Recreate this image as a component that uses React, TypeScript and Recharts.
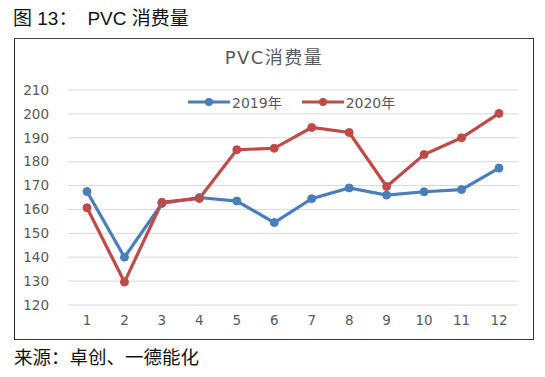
import { CartesianGrid, Legend, Line, LineChart, XAxis, YAxis } from "recharts";

const months = ["1", "2", "3", "4", "5", "6", "7", "8", "9", "10", "11", "12"];
const y2019 = [167.5, 140, 162.5, 165, 163.5, 154.5, 164.5, 169, 166, 167.4, 168.3, 177.3];
const y2020 = [160.7, 129.6, 163, 164.6, 185, 185.6, 194.3, 192.2, 169.6, 183, 190, 200.2];
const yTicks = [120, 130, 140, 150, 160, 170, 180, 190, 200, 210];

const BLUE = "#4A7EBB";
const RED = "#BE4B48";
const GREY = "#595959";
const CJK = "'Noto Sans CJK SC', 'Noto Sans', sans-serif";
const HEAD = "'Liberation Sans', 'Noto Sans CJK SC', sans-serif";
const NUM = "'DejaVu Sans', 'Noto Sans CJK SC', sans-serif";

const data = months.map((m, i) => ({ month: m, a: y2019[i], b: y2020[i] }));

function LegendContent({ payload }: any) {
  return (
    <div style={{ display: "flex", gap: 20, fontFamily: NUM, fontSize: 14, color: GREY }}>
      {(payload || []).map((p: any) => (
        <div key={p.value} style={{ display: "flex", alignItems: "center" }}>
          <svg width={42} height={10}>
            <line x1={0} y1={5} x2={42} y2={5} stroke={p.color} strokeWidth={3} />
            <circle cx={21} cy={5} r={4} fill={p.color} />
          </svg>
          <span style={{ marginLeft: 2 }}>{p.value}</span>
        </div>
      ))}
    </div>
  );
}

export default function App() {
  return (
    <div style={{ position: "absolute", left: 0, top: 0, width: 545, height: 377, background: "#fff" }}>
      <div style={{ position: "absolute", left: 13, top: 7, fontFamily: HEAD, fontSize: 19, lineHeight: "24px", color: "#111", whiteSpace: "pre" }}>
        <span>图 13：</span>
        <span style={{ marginLeft: 10 }}>PVC 消费量</span>
      </div>
      <div
        style={{
          position: "absolute",
          left: 14,
          top: 38,
          width: 518,
          height: 300,
          borderLeft: "1.5px solid #222",
          borderRight: "1.5px solid #333",
          borderBottom: "1.5px solid #333",
          borderTop: "1.5px solid #444",
        }}
      >
        <div
          style={{
            position: "absolute",
            left: 0,
            width: 518,
            top: 4,
            textAlign: "center",
            fontFamily: NUM,
            fontSize: 18,
            letterSpacing: 1.5,
            color: GREY,
            zIndex: 2,
          }}
        >
          PVC消费量
        </div>
        <LineChart width={518} height={300} data={data} margin={{ top: 51, right: 15, left: 0, bottom: 0 }}>
          <CartesianGrid vertical={false} stroke="#d9d9d9" strokeWidth={1} />
          <XAxis
            dataKey="month"
            axisLine={false}
            tickLine={false}
            height={34}
            tickMargin={4}
            padding={{ left: 19, right: 19 }}
            tick={{ fontSize: 13.5, fill: GREY, fontFamily: NUM }}
          />
          <YAxis
            domain={[120, 210]}
            ticks={yTicks}
            axisLine={false}
            tickLine={false}
            width={53}
            tickMargin={13}
            tick={{ fontSize: 13.5, fill: GREY, fontFamily: NUM }}
          />
          <Legend
            verticalAlign="middle"
            layout="horizontal"
            wrapperStyle={{ top: 53, left: 173, width: "auto" }}
            content={<LegendContent />}
          />
          <Line
            name="2019年"
            dataKey="a"
            stroke={BLUE}
            strokeWidth={3.2}
            dot={{ r: 4, fill: BLUE, stroke: BLUE, strokeWidth: 1 }}
            isAnimationActive={false}
          />
          <Line
            name="2020年"
            dataKey="b"
            stroke={RED}
            strokeWidth={3.2}
            dot={{ r: 4, fill: RED, stroke: RED, strokeWidth: 1 }}
            isAnimationActive={false}
          />
        </LineChart>
      </div>
      <div style={{ position: "absolute", left: 14, top: 343, fontFamily: CJK, fontSize: 18.5, color: "#111" }}>
        来源：卓创、一德能化
      </div>
    </div>
  );
}
